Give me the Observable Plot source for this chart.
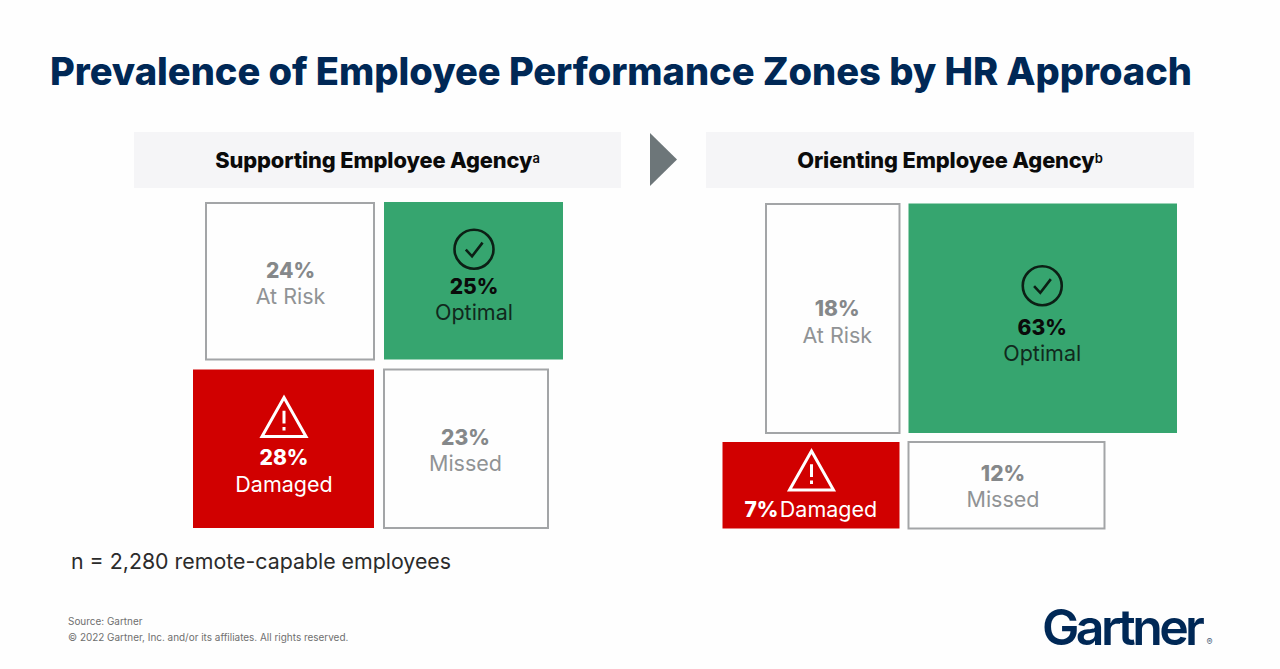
<!DOCTYPE html>
<html><head><meta charset="utf-8">
<script src="https://cdn.jsdelivr.net/npm/d3@7"></script>
<script src="https://cdn.jsdelivr.net/npm/@observablehq/plot@0.6"></script>
<style>
html,body{margin:0;padding:0;background:#fefefe;}
#page{position:relative;width:1280px;height:669px;overflow:hidden;font-family:Inter,sans-serif;}
#page>*{position:absolute;margin:0;}
#title{left:50px;top:48.5px;font-size:38.1px;font-weight:800;color:#002856;white-space:nowrap;letter-spacing:-.05px;line-height:44px;}
.head{top:132px;height:56px;background:#f5f5f7;display:flex;align-items:center;justify-content:center;font-size:21.8px;font-weight:800;color:#0b0b0b;letter-spacing:-.1px;}
.head sup{font-size:13px;line-height:0;position:relative;top:-2px;vertical-align:super;font-weight:600;}
#note{left:71px;top:548px;font-size:21.35px;color:#2b2b2b;line-height:26px;white-space:nowrap;}
.foot{left:68px;font-size:9.95px;color:#6f6f6f;white-space:nowrap;line-height:12px;}
#logo{left:1042px;top:597px;font-size:50px;font-weight:600;color:#002856;letter-spacing:-3.6px;line-height:60px;white-space:nowrap;}
#logo span{font-size:9px;letter-spacing:0;color:#4a5f7a;font-weight:400;margin-left:5px;}
</style></head>
<body><div id="page">
<h1 id="title">Prevalence of Employee Performance Zones by HR Approach</h1>
<div class="head" style="left:134px;width:487px">Supporting Employee Agency<sup>a</sup></div>
<svg style="left:650px;top:133px" width="27" height="53"><polygon points="0,0 27,26.5 0,53" fill="#6d7679"/></svg>
<div class="head" style="left:706px;width:488px">Orienting Employee Agency<sup>b</sup></div>
<p id="note">n = 2,280 remote-capable employees</p>
<p class="foot" style="top:615px">Source: Gartner</p>
<p class="foot" style="top:631px">© 2022 Gartner, Inc. and/or its affiliates. All rights reserved.</p>
<div id="logo">Gartner<span>®</span></div>
</div>
<script>
// Zones and their shares (%) under each HR approach
const zones = ["At Risk", "Optimal", "Damaged", "Missed"];
const supportingShare = [24, 25, 28, 23];
const orientingShare = [18, 63, 7, 12];
const supportingAcross = [-178, 189, -191, 174];
const supportingAlong = [166.5, 167.5, -168.5, -168.5];
const orientingAcross = [-142.5, 277.5, -186, 205];
const orientingAlong = [238, 238.5, -95.5, -95.5];

const fills = {"At Risk": "#fefefe", Optimal: "#36a56f", Damaged: "#d10000", Missed: "#fefefe"};
const strokes = {"At Risk": "#a3a5a7", Optimal: "none", Damaged: "none", Missed: "#a3a5a7"};
const pctInk = {"At Risk": "#85888a", Optimal: "#0a0a0a", Damaged: "#ffffff", Missed: "#85888a"};
const labelInk = {"At Risk": "#909395", Optimal: "#11291d", Damaged: "#ffffff", Missed: "#909395"};

const checkSymbol = {draw(c, size) {
  const r = Math.sqrt(size / Math.PI);
  c.moveTo(r, 0); c.arc(0, 0, r, 0, 2 * Math.PI);
  c.moveTo(-.42 * r, .02 * r); c.lineTo(-.1 * r, .36 * r); c.lineTo(.44 * r, -.34 * r);
}};
const warnSymbol = {draw(c, size) {
  const r = Math.sqrt(size / Math.PI);
  c.moveTo(0, -r * .9); c.lineTo(r, r * .88); c.lineTo(-r, r * .88); c.closePath();
  c.moveTo(0, -r * .3); c.lineTo(0, r * .28);
  c.moveTo(0, r * .44); c.lineTo(0, r * .6);
}};

function panel(share, across, along, layout) {
  const tiles = zones.map((zone, i) => ({zone, share: share[i], x: across[i], y: along[i]}));
  const marks = [
    Plot.rect(tiles, {
      x1: 0, x2: "x", y1: 0, y2: "y", inset: layout.inset,
      fill: d => fills[d.zone], stroke: d => strokes[d.zone], strokeWidth: 2
    })
  ];
  tiles.forEach((t, i) => {
    const o = layout.offsets[i];
    const base = {x: t.x / 2, y: t.y / 2};
    const font = {fontFamily: "Inter, sans-serif", textAnchor: "middle"};
    if (o.joined) {
      marks.push(Plot.text([t], {...base, ...font, dx: o.dx - 39, dy: o.label, text: () => t.share + "%", fontSize: 21, fontWeight: 800, fill: pctInk[t.zone]}));
      marks.push(Plot.text([t], {...base, ...font, dx: o.dx + 28, dy: o.label, text: () => t.zone, fontSize: 21.5, fontWeight: 400, fill: labelInk[t.zone]}));
    } else {
      marks.push(Plot.text([t], {...base, ...font, dx: o.dx, dy: o.pct, text: () => t.share + "%", fontSize: 21, fontWeight: 800, fill: pctInk[t.zone]}));
      marks.push(Plot.text([t], {...base, ...font, dx: o.dx, dy: o.label, text: () => t.zone, fontSize: 21.5, fontWeight: 400, fill: labelInk[t.zone]}));
    }
    if (o.icon !== undefined) {
      marks.push(Plot.dot([t], {
        ...base, dx: o.iconDx ?? o.dx, dy: o.icon, r: t.zone === "Optimal" ? 19.5 : 22,
        symbol: t.zone === "Optimal" ? checkSymbol : warnSymbol,
        fill: "none", stroke: t.zone === "Optimal" ? "#0c1f15" : "#ffffff",
        strokeWidth: t.zone === "Optimal" ? 2.6 : 3
      }));
    }
  });
  const svg = Plot.plot({
    width: layout.width, height: layout.height,
    margin: 0,
    x: {domain: layout.xDomain, axis: null},
    y: {domain: layout.yDomain, axis: null},
    style: {background: "transparent", overflow: "visible"},
    marks
  });
  svg.style.left = layout.left + "px";
  svg.style.top = layout.top + "px";
  document.getElementById("page").appendChild(svg);
}

panel(supportingShare, supportingAcross, supportingAlong, {
  inset: 5, left: 188, top: 197, width: 380, height: 336,
  xDomain: [-191, 189], yDomain: [-168.5, 167.5],
  offsets: [
    {dx: 0, pct: -10.5, label: 15},
    {dx: 0, pct: 6, label: 32, icon: -32},
    {dx: 0, pct: 9.5, label: 35.5, icon: -32},
    {dx: -1, pct: -11, label: 14.5}
  ]
});
panel(orientingShare, orientingAcross, orientingAlong, {
  inset: 4.5, left: 717.5, top: 198.5, width: 463.5, height: 334,
  xDomain: [-186, 277.5], yDomain: [-95.5, 238.5],
  offsets: [
    {dx: 4, pct: -10, label: 17},
    {dx: -1, pct: 9.5, label: 35, icon: -33},
    {dx: -11, iconDx: 0, joined: true, label: 24.5, icon: -15},
    {dx: -4, pct: -11, label: 14.5}
  ]
});
</script>
</body></html>
